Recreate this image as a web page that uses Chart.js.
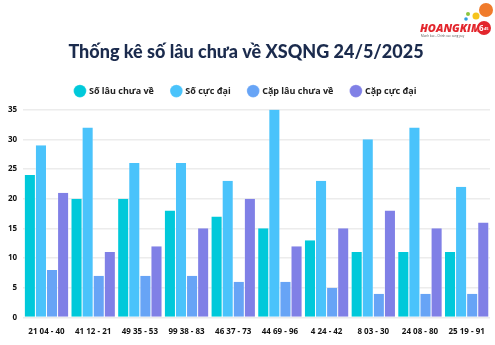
<!DOCTYPE html>
<html>
<head>
<meta charset="utf-8">
<script src="https://cdn.jsdelivr.net/npm/chart.js@4.4.0/dist/chart.umd.min.js"></script>
<style>
  html, body { margin: 0; padding: 0; background: #fff; }
  #wrap { position: relative; width: 495px; height: 345px; }
</style>
</head>
<body>
<div id="wrap"><canvas id="chart" width="495" height="345"></canvas></div>
<script>
// Pairs and their stats
const labels = ['21 04 - 40', '41 12 - 21', '49 35 - 53', '99 38 - 83', '46 37 - 73',
                '44 69 - 96', '4 24 - 42', '8 03 - 30', '24 08 - 80', '25 19 - 91'];
const soLauChuaVe = [24, 20, 20, 18, 17, 15, 13, 11, 11, 11];
const soCucDai    = [29, 32, 26, 26, 23, 35, 23, 30, 32, 22];
const capLauChuaVe = [8, 7, 7, 7, 6, 6, 5, 4, 4, 4];
const capCucDai   = [21, 11, 12, 15, 20, 12, 15, 18, 15, 16];
const yTicks = [0, 5, 10, 15, 20, 25, 30, 35];

const FONT = "'Open Sans', 'Noto Sans', sans-serif";
const TITLE_FONT = "Lato, 'Open Sans', sans-serif";

// small brand mark in the top right corner
const logoPlugin = {
  id: 'logo',
  afterDraw(chart) {
    const c = chart.ctx;
    c.save();
    const dots = [[486, 10, 7, '#f07b2b'], [476, 16, 3.5, '#f6c31c'], [468, 14, 2, '#8cc63f'], [466, 19, 1.8, '#2f9de0']];
    dots.forEach(([x, y, r, col]) => {
      c.beginPath(); c.arc(x, y, r, 0, Math.PI * 2); c.fillStyle = col; c.fill();
    });
    c.font = "italic 900 11px " + FONT;
    c.fillStyle = '#e3262d';
    c.textBaseline = 'alphabetic';
    c.fillText('HOANGKIM', 420, 32);
    c.beginPath(); c.arc(484, 28, 7, 0, Math.PI * 2); c.fillStyle = '#e3262d'; c.fill();
    c.font = "bold 8px " + FONT;
    c.fillStyle = '#fff';
    c.fillText('6', 479, 31);
    c.font = "bold 4px " + FONT;
    c.fillText('45', 484, 30);
    c.font = "3px " + FONT;
    c.fillStyle = '#555';
    c.fillText('Manh bac - Chinh xac cung pay', 421, 37);
    c.restore();
  }
};

// extra room under the legend
const legendGap = {
  id: 'legendGap',
  beforeInit(chart) {
    const fit = chart.legend.fit;
    chart.legend.fit = function () {
      fit.call(this);
      this.height += 4;
    };
  }
};

new Chart(document.getElementById('chart'), {
  type: 'bar',
  data: {
    labels: labels,
    datasets: [
      { label: 'Số lâu chưa về', data: soLauChuaVe, backgroundColor: '#00c9da' },
      { label: 'Số cực đại', data: soCucDai, backgroundColor: '#4ac3fb' },
      { label: 'Cặp lâu chưa về', data: capLauChuaVe, backgroundColor: '#67a4f6' },
      { label: 'Cặp cực đại', data: capCucDai, backgroundColor: '#8080e6' }
    ]
  },
  options: {
    responsive: false,
    animation: false,
    datasets: {
      bar: {
        borderColor: '#ffffff',
        borderWidth: { left: 0.5, right: 0.5, top: 0, bottom: 0 },
        barPercentage: 1,
        categoryPercentage: 0.95
      }
    },
    layout: { padding: { left: 2, right: 5, top: 0, bottom: 6 } },
    plugins: {
      title: {
        display: true,
        text: 'Thống kê số lâu chưa về XSQNG 24/5/2025',
        color: '#1b2b4d',
        font: { family: TITLE_FONT, size: 18, weight: '900' },
        padding: { top: 41, bottom: 6 }
      },
      legend: {
        labels: {
          usePointStyle: true,
          pointStyle: 'circle',
          boxWidth: 9,
          boxHeight: 9,
          padding: 18,
          color: '#222',
          font: { family: FONT, size: 9, weight: 'bold' }
        }
      },
      tooltip: { enabled: false }
    },
    scales: {
      x: {
        grid: { display: false },
        border: { display: false },
        ticks: {
          color: '#111',
          padding: 2,
          font: { family: FONT, size: 8, weight: 'bold' },
          maxRotation: 0,
          autoSkip: false
        }
      },
      y: {
        min: 0,
        max: 35,
        afterBuildTicks: axis => { axis.ticks = yTicks.map(v => ({ value: v })); },
        grid: { color: '#ececec', lineWidth: 1.5, drawTicks: false },
        border: { display: false },
        ticks: {
          color: '#111',
          padding: 6,
          font: { family: FONT, size: 8, weight: 'bold' }
        }
      }
    }
  },
  plugins: [logoPlugin, legendGap]
});
</script>
</body>
</html>
